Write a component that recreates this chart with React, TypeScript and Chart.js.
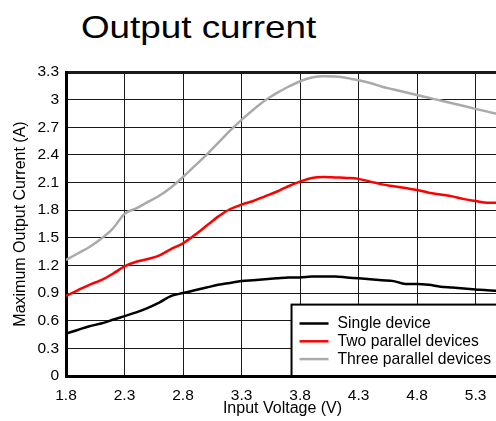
import React, { useEffect, useRef } from "react";
import { Chart, registerables } from "chart.js";

Chart.register(...registerables);

// Input voltage (V) sample points
const voltages = [
  1.8, 1.9, 2.0, 2.1, 2.2, 2.3, 2.4, 2.5, 2.6, 2.7, 2.8, 2.9, 3.0, 3.1, 3.2, 3.3, 3.4, 3.5, 3.6,
  3.7, 3.8, 3.9, 4.0, 4.1, 4.2, 4.3, 4.4, 4.5, 4.6, 4.7, 4.8, 4.9, 5.0, 5.1, 5.2, 5.3, 5.4, 5.5,
];

// Maximum output current (A)
const singleDevice = [
  0.46, 0.5, 0.54, 0.57, 0.61, 0.65, 0.69, 0.74, 0.8, 0.87, 0.9, 0.93, 0.96, 0.99, 1.01, 1.03, 1.04,
  1.05, 1.06, 1.07, 1.07, 1.08, 1.08, 1.08, 1.07, 1.06, 1.05, 1.04, 1.03, 1.0, 1.0, 0.99, 0.97, 0.96,
  0.95, 0.94, 0.93, 0.925,
];
const twoParallel = [
  0.87, 0.93, 0.99, 1.04, 1.11, 1.19, 1.24, 1.27, 1.31, 1.38, 1.44, 1.53, 1.63, 1.73, 1.81, 1.86, 1.9,
  1.95, 2.0, 2.06, 2.11, 2.15, 2.16, 2.155, 2.15, 2.14, 2.11, 2.08, 2.06, 2.04, 2.02, 1.99, 1.97, 1.95,
  1.92, 1.9, 1.88, 1.88,
];
const threeParallel = [
  1.26, 1.33, 1.4, 1.49, 1.6, 1.76, 1.82, 1.89, 1.96, 2.05, 2.16, 2.28, 2.4, 2.53, 2.66, 2.78, 2.89,
  2.99, 3.07, 3.14, 3.2, 3.24, 3.255, 3.25, 3.235, 3.21, 3.18, 3.14, 3.11, 3.08, 3.05, 3.02, 2.99, 2.96,
  2.93, 2.9, 2.87, 2.84,
];

const seriesLabels = ["Single device", "Two parallel devices", "Three parallel devices"];
const seriesColors = ["#000000", "#ff0000", "#aaaaaa"];

const xTickValues = [1.8, 2.3, 2.8, 3.3, 3.8, 4.3, 4.8, 5.3];
const xTickLabels = ["1.8", "2.3", "2.8", "3.3", "3.8", "4.3", "4.8", "5.3"];
const yTickValues = [0, 0.3, 0.6, 0.9, 1.2, 1.5, 1.8, 2.1, 2.4, 2.7, 3.0, 3.3];
const yTickLabels = ["0", "0.3", "0.6", "0.9", "1.2", "1.5", "1.8", "2.1", "2.4", "2.7", "3", "3.3"];

const FONT = "'Liberation Sans', Arial, Helvetica, sans-serif";

// Boxed legend in the lower-right corner of the plot area
const boxLegend = {
  id: "boxLegend",
  afterDatasetsDraw(chart: any) {
    const { ctx, chartArea } = chart;
    const rowH = 17.8;
    const padL = 8;
    const sample = 29;
    const gap = 9;
    const padR = 8;
    const padTop = 10;
    const padBottom = 8;
    ctx.save();
    ctx.font = `15.7px ${FONT}`;
    const items = chart.data.datasets.map((d: any) => ({
      label: d.label as string,
      color: d.borderColor as string,
      width: ctx.measureText(d.label).width,
    }));
    const maxW = Math.max(...items.map((i: any) => i.width));
    const w = padL + sample + gap + maxW + padR;
    const h = padTop + items.length * rowH + padBottom;
    const right = chartArea.right;
    const bottom = chartArea.bottom;
    const left = right - w;
    const top = bottom - h;
    ctx.fillStyle = "#ffffff";
    ctx.fillRect(left, top, w, h);
    ctx.strokeStyle = "#000000";
    ctx.lineWidth = 2;
    ctx.strokeRect(left, top, w, h);
    items.forEach((it: any, i: number) => {
      const cy = top + padTop + rowH * (i + 0.5);
      ctx.strokeStyle = it.color;
      ctx.lineWidth = 2.5;
      ctx.beginPath();
      ctx.moveTo(left + padL, cy);
      ctx.lineTo(left + padL + sample, cy);
      ctx.stroke();
      ctx.fillStyle = "#000000";
      ctx.textBaseline = "middle";
      ctx.textAlign = "left";
      ctx.fillText(it.label, left + padL + sample + gap, cy + 0.5);
    });
    ctx.restore();
  },
};

export default function App() {
  const canvasRef = useRef<HTMLCanvasElement | null>(null);

  useEffect(() => {
    const canvas = canvasRef.current;
    if (!canvas) return;
    const series = [singleDevice, twoParallel, threeParallel];
    const chart = new Chart(canvas, {
      type: "line",
      data: {
        datasets: series.map((values, s) => ({
          label: seriesLabels[s],
          data: voltages.map((v, i) => ({ x: v, y: values[i] })),
          borderColor: seriesColors[s],
          backgroundColor: seriesColors[s],
          borderWidth: 2.5,
          pointRadius: 0,
          cubicInterpolationMode: "monotone" as const,
          fill: false,
        })),
      },
      options: {
        animation: false,
        responsive: true,
        maintainAspectRatio: false,
        layout: { padding: { top: 72, right: 5, bottom: 0, left: 0 } },
        plugins: {
          legend: { display: false },
          title: { display: false },
          tooltip: { enabled: false },
        },
        scales: {
          x: {
            type: "linear",
            min: 1.8,
            max: 5.5,
            afterBuildTicks: (scale: any) => {
              scale.ticks = xTickValues.map((v) => ({ value: v }));
            },
            afterFit: (scale: any) => {
              scale.height = 45;
            },
            ticks: {
              autoSkip: false,
              maxRotation: 0,
              padding: 10,
              color: "#000",
              font: { family: FONT, size: 15.5 },
              callback: (_v: any, i: number) => xTickLabels[i],
            },
            grid: { color: "#1a1a1a", lineWidth: 1, drawTicks: false },
            border: { display: true, color: "#000", width: 3 },
            title: {
              display: true,
              text: "Input Voltage (V)",
              color: "#000",
              font: { family: FONT, size: 16 },
              padding: { top: 0, bottom: 3 },
            },
          },
          y: {
            type: "linear",
            min: 0,
            max: 3.3,
            afterBuildTicks: (scale: any) => {
              scale.ticks = yTickValues.map((v) => ({ value: v }));
            },
            afterFit: (scale: any) => {
              scale.width = 66;
            },
            ticks: {
              autoSkip: false,
              padding: 7,
              color: "#000",
              font: { family: FONT, size: 15.5 },
              callback: (_v: any, i: number) => yTickLabels[i],
            },
            grid: {
              color: "#1a1a1a",
              lineWidth: (ctx: any) => (ctx.tick && ctx.tick.value === 3.3 ? 3 : 1),
              drawTicks: false,
            },
            border: { display: true, color: "#000", width: 3 },
            title: {
              display: true,
              text: "Maximum Output Current (A)",
              color: "#000",
              font: { family: FONT, size: 16 },
              padding: { top: 11, bottom: 0 },
            },
          },
        },
      },
      plugins: [boxLegend],
    });
    return () => chart.destroy();
  }, []);

  return (
    <div
      style={{
        position: "absolute",
        left: 0,
        top: 0,
        width: 496,
        height: 421,
        overflow: "hidden",
        background: "#fff",
      }}
    >
      <div
        style={{
          position: "absolute",
          left: 81,
          top: 10.6,
          fontFamily: FONT,
          fontSize: 32,
          lineHeight: "32px",
          color: "#000",
          whiteSpace: "nowrap",
          transform: "scaleX(1.15)",
          transformOrigin: "left top",
        }}
      >
        Output current
      </div>
      <div style={{ position: "absolute", left: 0, top: 0, width: 504, height: 421 }}>
        <canvas ref={canvasRef} />
      </div>
    </div>
  );
}
